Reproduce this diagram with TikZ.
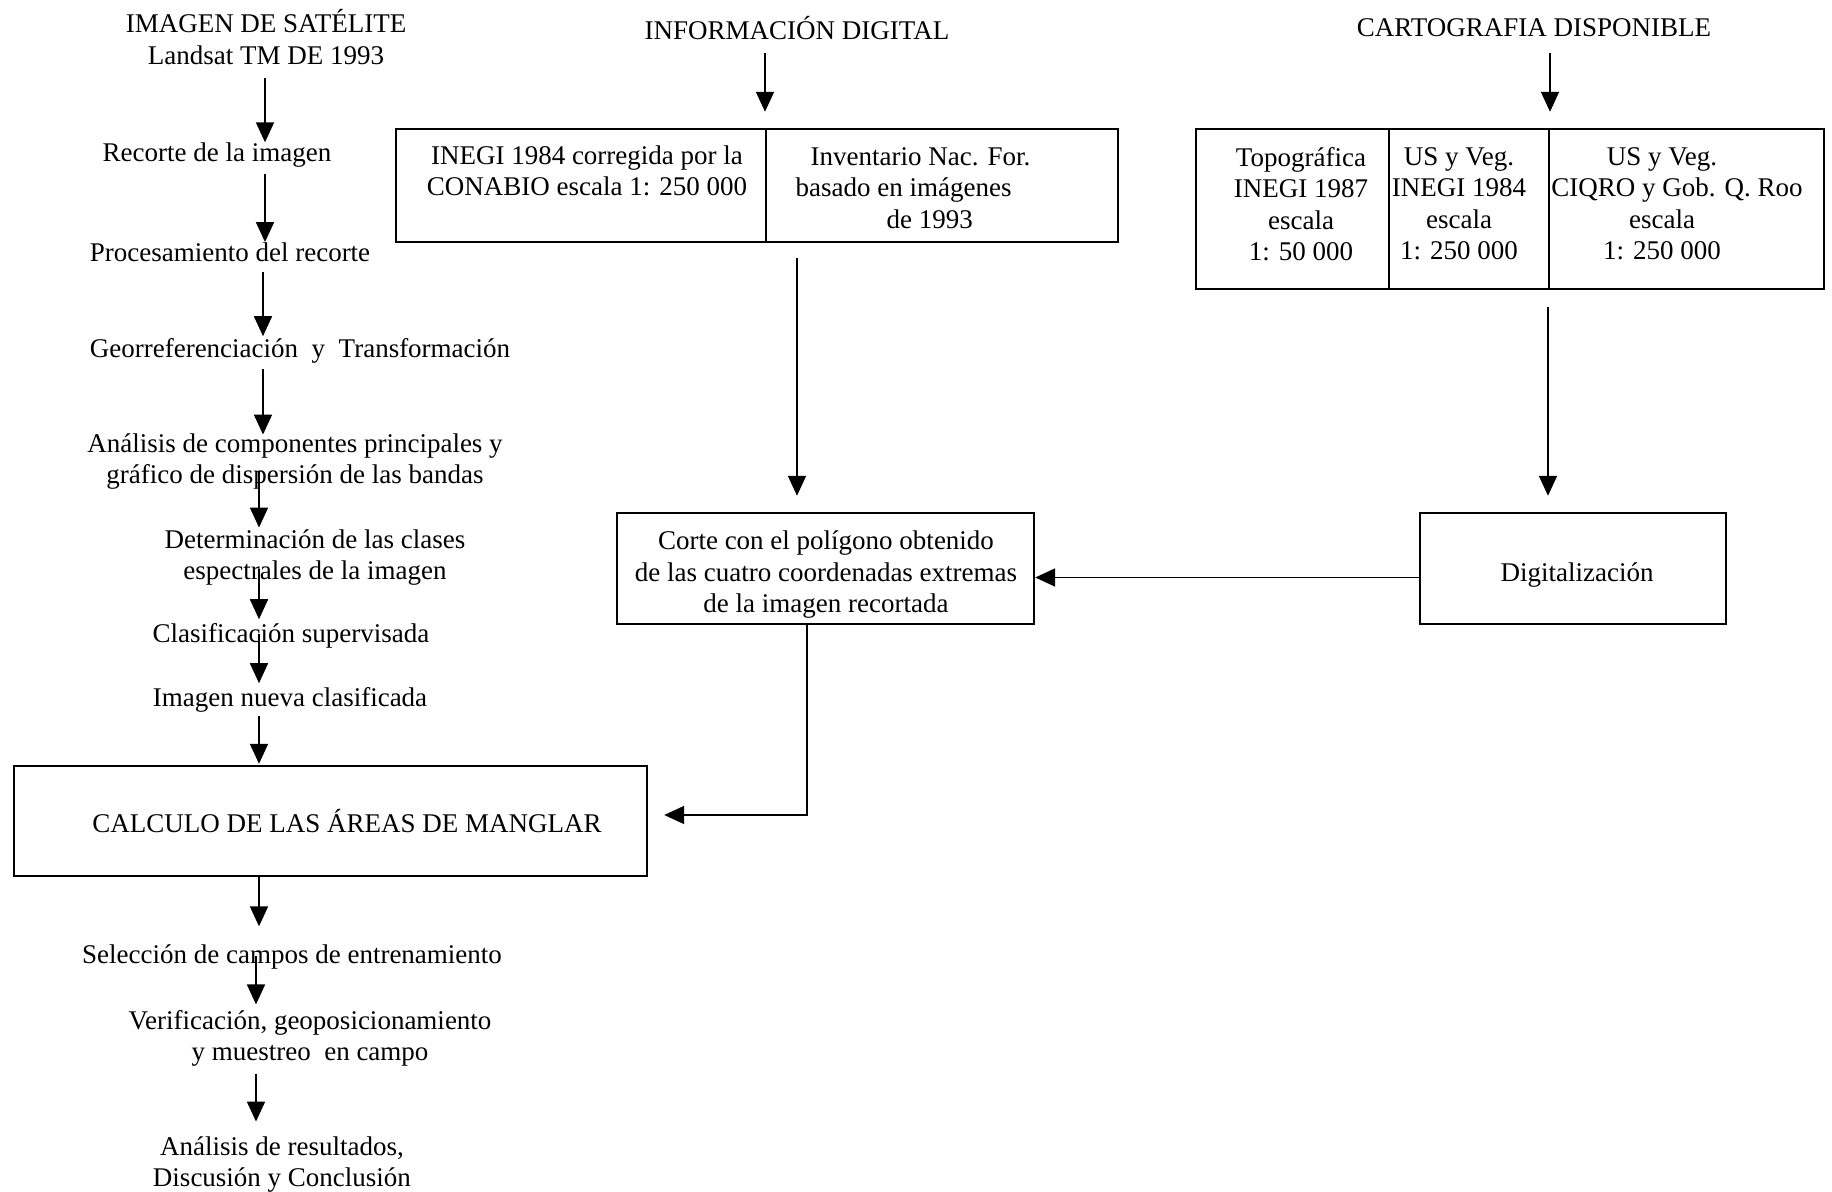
\documentclass[tikz,border=0pt]{standalone}
\usepackage{fontspec}
\setmainfont{Liberation Serif}
\usetikzlibrary{arrows.meta}
\begin{document}
\begin{tikzpicture}[x=0.5pt,y=-0.5pt,
  every node/.style={font=\fontsize{13.5}{15.75}\selectfont},
  txt/.style={align=center, inner sep=0pt},
  box/.style={draw, line width=1.2pt, inner sep=0pt, align=center},
  arr/.style={line width=0.9pt, -{Triangle[width=9pt,length=10pt]}}
]
\useasboundingbox (0,0) rectangle (1832,1192);
% left column: satellite image processing
\node[txt] (sat) at (266,37) {IMAGEN DE SATÉLITE\\Landsat TM DE 1993};
\node[txt] (recorte) at (217,155.5) {Recorte de la imagen};
\node[txt] (proc) at (230,252.5) {Procesamiento del recorte};
\node[txt] (geo) at (300,350.5) {Georreferenciación~ y~ Transformación};
\node[txt] (anal) at (295,461.5) {Análisis de componentes principales y\\gráfico de dispersión de las bandas};
\node[txt] (deter) at (315,557.5) {Determinación de las clases\\espectrales de la imagen};
\node[txt] (clasif) at (291,635.5) {Clasificación supervisada};
\node[txt] (nueva) at (290,699.5) {Imagen nueva clasificada};
\node[box, minimum width=316.5pt, minimum height=55pt] (calc) at (330.5,821) {\hspace*{16.5pt}CALCULO DE LAS ÁREAS DE MANGLAR};
\node[txt] (selec) at (292,956.5) {Selección de campos de entrenamiento};
\node[txt] (verif) at (310,1038.5) {Verificación, geoposicionamiento\\y muestreo~ en campo};
\node[txt] (result) at (282,1164.5) {Análisis de resultados,\\Discusión y Conclusión};

\draw[arr, shorten <=6.5pt, shorten >=0.25pt] (sat.south -| 265,0) -- (recorte.north -| 265,0);
\draw[arr, shorten <=2.75pt, shorten >=0.25pt] (recorte.south -| 265,0) -- (proc.north -| 265,0);
\draw[arr, shorten <=4.75pt, shorten >=0.75pt] (proc.south -| 263,0) -- (geo.north -| 263,0);
\draw[arr, shorten <=2.75pt, shorten >=-0.75pt] (geo.south -| 263,0) -- (anal.north -| 263,0);
\draw[arr, shorten <=-9.25pt, shorten >=0.75pt] (anal.south -| 259,0) -- (deter.north -| 259,0);
\draw[arr, shorten <=-8.25pt, shorten >=1.75pt] (deter.south -| 259,0) -- (clasif.north -| 259,0);
\draw[arr, shorten <=-7.25pt, shorten >=1.75pt] (clasif.south -| 259,0) -- (nueva.north -| 259,0);
\draw[arr, shorten <=1.75pt, shorten >=0.5pt] (nueva.south -| 259,0) -- (calc.north -| 259,0);
\draw[arr, shorten >=8.75pt] (calc.south -| 259,0) -- (selec.north -| 259,0);
\draw[arr, shorten <=-6.75pt, shorten >=2.75pt] (selec.south -| 256,0) -- (verif.north -| 256,0);
\draw[arr, shorten <=3.25pt, shorten >=7.25pt] (verif.south -| 256,0) -- (result.north -| 256,0);

% middle: digital information
\node[txt] (infot) at (797,28) {INFORMACIÓN DIGITAL};
\node[box, minimum width=361pt, minimum height=56.5pt] (info) at (757,185.5) {};
\draw[line width=1.2pt] (info.north -| 766,0) -- (info.south -| 766,0);
\node[txt] (inegi) at (587,171) {INEGI 1984 corregida por la\\CONABIO escala 1: 250 000};
\node[txt, align=left] (invent) at (913,188) {\hspace*{7.5pt}Inventario Nac. For.\\basado en imágenes\\\hspace*{45.5pt}de 1993};
\node[box, minimum width=208.5pt, minimum height=55.5pt] (corte) at (825.5,568.5) {};
\node[txt] (cortetxt) at (826,575) {Corte con el polígono obtenido\\de las cuatro coordenadas extremas\\de la imagen recortada};

% right: available cartography
\node[txt] (cartot) at (1534,28) {CARTOGRAFIA DISPONIBLE};
\node[box, minimum width=314pt, minimum height=80pt] (carto) at (1510,209) {};
\draw[line width=1.2pt] (carto.north -| 1389,0) -- (carto.south -| 1389,0);
\draw[line width=1.2pt] (carto.north -| 1549,0) -- (carto.south -| 1549,0);
\node[txt] (topo) at (1301,204) {Topográfica\\INEGI 1987\\escala\\1: 50 000};
\node[txt] (usveg) at (1459,204) {US y Veg.\\INEGI 1984\\escala\\1: 250 000};
\node[txt] (ciqro) at (1662,204) {US y Veg.\\\hspace*{15pt}CIQRO y Gob. Q. Roo\\escala\\1: 250 000};
\node[box, minimum width=153pt, minimum height=55.5pt] (digit) at (1573,568.5) {};
\node[txt] (digittxt) at (1577,575) {Digitalización};

\draw[arr, shorten <=6.5pt, shorten >=8pt] (infot.south -| 765,0) -- (info.north -| 765,0);
\draw[arr, shorten <=7.5pt, shorten >=8pt] (info.south -| 797,0) -- (corte.north -| 797,0);
\draw[arr, shorten <=8pt, shorten >=8pt] (cartot.south -| 1550,0) -- (carto.north -| 1550,0);
\draw[arr, shorten <=8.5pt, shorten >=8pt] (carto.south -| 1548,0) -- (digit.north -| 1548,0);
\draw[arr] ([yshift=-4.5pt]digit.west) -- ([yshift=-4.5pt]corte.east);
\draw[arr, shorten >=8pt] (corte.south -| 807,0) |- ([yshift=3pt]calc.east);
\end{tikzpicture}
\end{document}
